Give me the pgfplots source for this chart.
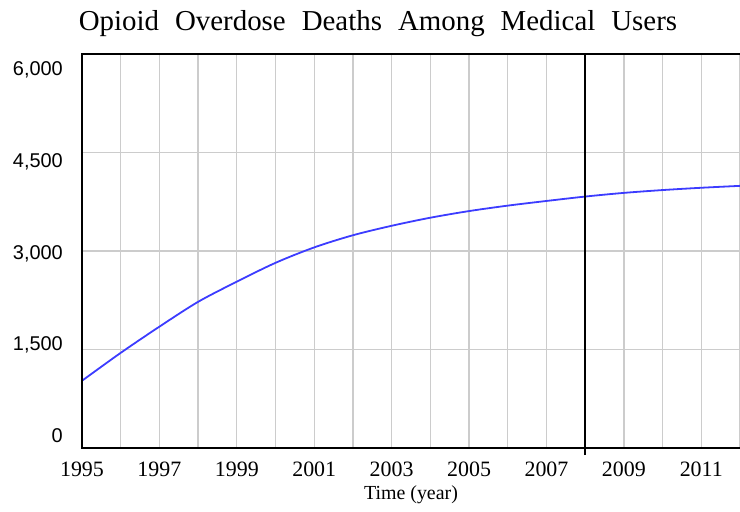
\documentclass[border=0pt]{standalone}
\usepackage{pgfplots}
\pgfplotsset{compat=1.18}
\usepackage{fontspec}
\setmainfont{Liberation Serif}
\newfontfamily\sansf{Liberation Sans}
\definecolor{gridc}{RGB}{204,204,204}
\definecolor{curve}{RGB}{60,60,255}
\begin{document}
\begin{tikzpicture}
\useasboundingbox (0bp,0bp) rectangle (740bp,512bp);
\begin{axis}[
  at={(82bp,64bp)}, anchor=south west,
  scale only axis, width=658bp, height=394bp,
  xmin=1995, xmax=2012, ymin=0, ymax=6000,
  axis line style={draw=none},
  xtick={1995,1997,...,2011},
  xticklabels={1995,1997,1999,2001,2003,2005,2007,2009,2011},
  minor xtick={1996,1998,...,2012},
  ytick={0,1500,...,6000}, yticklabels={},
  extra y ticks={91,1485,2878,4272,5665},
  extra y tick labels={0,{1,500},{3,000},{4,500},{6,000}},
  extra y tick style={grid=none, major tick length=0pt,
    yticklabel style={anchor=base east, inner sep=0pt, xshift=-19bp, font=\sansf\fontsize{20}{24}\selectfont}},
  grid=both,
  major grid style={gridc, line width=1.3bp},
  minor grid style={gridc, line width=1.3bp},
  major tick length=0pt, minor tick length=0pt,
  xticklabel style={anchor=base, inner sep=0pt, yshift=-28bp, font=\fontsize{22}{26}\selectfont},
  clip=false,
]
\addplot[curve, line width=1.8bp, smooth] coordinates {
(1995,1024) (1996,1449) (1997,1848) (1998,2226) (1999,2533) (2000,2820)
(2001,3055) (2002,3240) (2003,3384) (2004,3507) (2005,3608) (2006,3691)
(2007,3762) (2008,3829) (2009,3885) (2010,3928) (2011,3963) (2012,3992)};
\addplot[black, line width=1.6bp] coordinates {(2008,-110) (2008,6000)};
\draw[black, line width=2.5bp] (rel axis cs:1,1) -- (rel axis cs:0,1) -- (rel axis cs:0,0) -- (rel axis cs:1,0);
\end{axis}
\node[anchor=base, font=\fontsize{29}{34}\selectfont] at (378bp,481bp) {Opioid\hspace{16bp}Overdose\hspace{16bp}Deaths\hspace{16bp}Among\hspace{16bp}Medical\hspace{16bp}Users};
\node[anchor=base, font=\fontsize{20}{24}\selectfont] at (411bp,13bp) {Time (year)};
\end{tikzpicture}
\end{document}
